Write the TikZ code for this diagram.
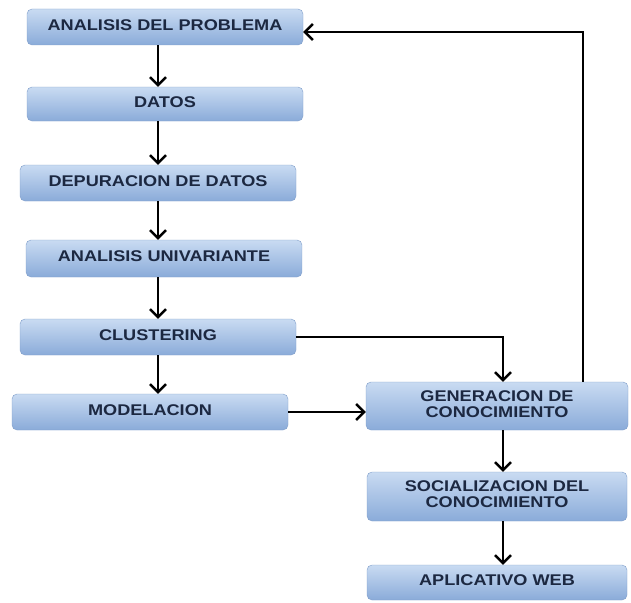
\documentclass[tikz,border=0pt]{standalone}
\usepackage{fontspec}
\usepackage{graphicx}
\setmainfont{Liberation Sans}
\usetikzlibrary{arrows.meta}

\definecolor{cajaarriba}{HTML}{C9DBF2}
\definecolor{cajaabajo}{HTML}{8AABD9}
\definecolor{cajaborde}{HTML}{7F9DC9}
\definecolor{letra}{HTML}{1C2841}

% texto algo ensanchado, como en el original
\newcommand{\ancho}[1]{\scalebox{1.17}[1]{\begin{tabular}{@{}c@{}}#1\end{tabular}}}

\tikzset{
    caja/.style={rounded corners=5pt, draw=cajaborde, top color=cajaarriba, bottom color=cajaabajo,
        text=letra, font=\bfseries\fontsize{15.5}{16}\selectfont, align=center,
        minimum width=276pt, minimum height=36pt, inner sep=0pt},
    flecha/.style={line width=2.4pt, -{Straight Barb[length=8pt,width=16pt,line width=2.4pt]}}
}

\begin{document}
\begin{tikzpicture}[x=1pt,y=-1pt]
            \useasboundingbox (0,0) rectangle (631,602);

            \node[caja] (prob) at (165,27) {\ancho{ANALISIS DEL PROBLEMA}};
            \node[caja, minimum height=34pt] (datos) at (165,104) {\ancho{DATOS}};
            \node[caja] (depur) at (158,183) {\ancho{DEPURACION DE DATOS}};
            \node[caja, minimum height=37pt] (univ) at (164,258.5) {\ancho{ANALISIS UNIVARIANTE}};
            \node[caja] (clust) at (158,337) {\ancho{CLUSTERING}};
            \node[caja] (model) at (150,412) {\ancho{MODELACION}};

            \node[caja, minimum width=262pt, minimum height=48pt] (gener) at (497,406) {\ancho{GENERACION DE\\CONOCIMIENTO}};
            \node[caja, minimum width=260pt, minimum height=49pt] (social) at (497,496.5) {\ancho{SOCIALIZACION DEL\\CONOCIMIENTO}};
            \node[caja, minimum width=260pt, minimum height=35pt] (aplic) at (497,582.5) {\ancho{APLICATIVO WEB}};

            \coordinate (izq) at (158,0);
            \coordinate (der) at (503,0);
            \coordinate (vuelta) at (583,0);

            \draw[flecha] (prob.south -| izq) -- (datos.north -| izq);
            \draw[flecha] (datos.south -| izq) -- (depur.north -| izq);
            \draw[flecha] (depur.south -| izq) -- (univ.north -| izq);
            \draw[flecha] (univ.south -| izq) -- (clust.north -| izq);
            \draw[flecha] (clust.south -| izq) -- (model.north -| izq);

            \draw[flecha] (clust.east) -| (gener.north -| der);
            \draw[flecha] (model.east) -- (gener.west |- model.east);
            \draw[flecha] (gener.south -| der) -- (social.north -| der);
            \draw[flecha] (social.south -| der) -- (aplic.north -| der);

            % regreso al inicio
            \draw[flecha] (gener.north -| vuelta) |- ([yshift=-5pt]prob.east);
        \end{tikzpicture}
\end{document}
